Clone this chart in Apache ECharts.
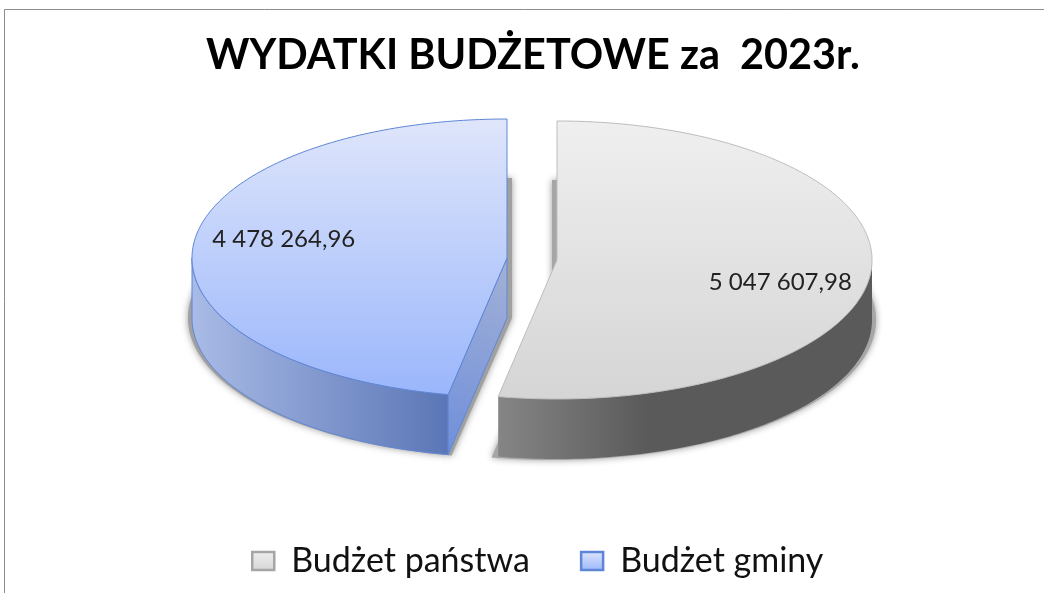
<!DOCTYPE html>
<html>
<head>
<meta charset="utf-8">
<style>
html, body { margin: 0; padding: 0; background: #fff; }
#chart { width: 1044px; height: 593px; }
</style>
<script src="https://cdn.jsdelivr.net/npm/echarts@6/dist/echarts.min.js"></script>
</head>
<body>
<div id="chart"></div>
<script>
// dane
const titleText = 'WYDATKI BUDŻETOWE za  2023r.'
const sliceNames = ['Budżet państwa', 'Budżet gminy']
const sliceValues = [5047607.98, 4478264.96]

// wyglad kawalkow
const RX = 315
const RY = 139
const DEPTH = 60
const centers = [[557, 260], [507, 258]]
const shadowShift = [-5, 5]
const labelFactor = 0.712
const labelShift = [13, -9]
const looks = [
    {
        top: ['#efefef', '#d5d5d5'],
        edge: '#bdbdbd',
        wall: [[0, '#858585'], [0.4, '#5a5a5a'], [1, '#5a5a5a']],
        wallEdge: '#6a6a6a',
        shadow: '#a6a6a6'
    },
    {
        top: ['#dfe6fb', '#9ab6fb'],
        edge: '#5f86d6',
        wall: [[0, '#a9bbe6'], [1, '#5b76b6']],
        wallEdge: '#5f86d6',
        face: ['#a3b1d6', '#6f8fdb'],
        shadow: '#a0a0a0'
    }
]

const total = sliceValues.reduce((a, b) => a + b, 0)

// 5047607.98 -> 5 047 607,98
const formatValue = (v) => v.toFixed(2).replace('.', ',').replace(/\B(?=(\d{3})+(?!\d))/g, ' ')

const rim = (cx, cy, rx, ry, from, to) => {
    const pts = []
    const n = Math.max(2, Math.ceil(Math.abs(to - from) * 180 / Math.PI))
    for (let k = 0; k <= n; k++) {
        const a = from + (to - from) * k / n
        pts.push([cx + rx * Math.sin(a), cy - ry * Math.cos(a)])
    }
    return pts
}

const vGrad = (c) => new echarts.graphic.LinearGradient(0, 0, 0, 1, [{ offset: 0, color: c[0] }, { offset: 1, color: c[1] }])
const hGrad = (stops) => new echarts.graphic.LinearGradient(0, 0, 1, 0, stops.map(s => ({ offset: s[0], color: s[1] })))

const renderSlice = (i) => (params, api) => {
    const before = sliceValues.slice(0, i).reduce((a, b) => a + b, 0)
    const from = before / total * Math.PI * 2
    const to = (before + api.value(0)) / total * Math.PI * 2
    const [cx, cy] = centers[i]
    const look = looks[i]
    const children = []

    // cien pod spodem
    const sx = cx + shadowShift[i]
    children.push({
        type: 'polygon',
        shape: { points: [[sx, cy + DEPTH]].concat(rim(sx, cy + DEPTH, RX + 9, RY + 1, from, to)) },
        style: { fill: look.shadow, shadowBlur: 7, shadowColor: 'rgba(0,0,0,0.4)' }
    })

    // sciana zewnetrzna, tylko przednia polowa
    const wallFrom = Math.max(from, Math.PI / 2)
    const wallTo = Math.min(to, Math.PI * 3 / 2)
    const upper = rim(cx, cy, RX, RY, wallFrom, wallTo)
    const lower = rim(cx, cy + DEPTH, RX, RY, wallFrom, wallTo).reverse()
    children.push({
        type: 'polygon',
        shape: { points: upper.concat(lower) },
        style: { fill: hGrad(look.wall), stroke: look.wallEdge, lineWidth: i === 0 ? 0 : 1 }
    })

    // sciana ciecia widoczna tylko po stronie gminy
    if (look.face) {
        const p = rim(cx, cy, RX, RY, from, from + 0.0001)[0]
        children.push({
            type: 'polygon',
            shape: { points: [[cx, cy], p, [p[0], p[1] + DEPTH], [cx, cy + DEPTH]] },
            style: { fill: new echarts.graphic.LinearGradient(1, 0, 0, 1, [
                { offset: 0, color: look.face[0] }, { offset: 1, color: look.face[1] }
            ]), stroke: look.edge, lineWidth: 1 }
        })
    }

    // wierzch
    children.push({
        type: 'polygon',
        shape: { points: [[cx, cy]].concat(rim(cx, cy, RX, RY, from, to)) },
        style: { fill: vGrad(look.top), stroke: look.edge, lineWidth: 1 }
    })

    // etykieta wartosci
    const mid = (from + to) / 2
    children.push({
        type: 'text',
        style: {
            x: cx + RX * labelFactor * Math.sin(mid),
            y: cy - RY * labelFactor * Math.cos(mid) + labelShift[i],
            text: formatValue(api.value(0)),
            fill: '#222',
            font: '24px Lato, sans-serif',
            align: 'center',
            verticalAlign: 'middle'
        }
    })
    return { type: 'group', children }
}

const myChart = echarts.init(document.getElementById('chart'))
myChart.setOption({
    animation: false,
    backgroundColor: '#fff',
    title: {
        text: titleText,
        left: 201,
        top: 30,
        textStyle: { color: '#000', fontFamily: 'Lato, sans-serif', fontWeight: 'bold', fontSize: 41.4 }
    },
    legend: {
        left: 246,
        top: 539,
        itemWidth: 22,
        itemHeight: 18,
        itemGap: 50,
        textStyle: { color: '#111', fontFamily: 'Lato, sans-serif', fontSize: 34, padding: [0, 0, 0, 12] },
        data: sliceNames.map((name, i) => ({
            name,
            icon: 'rect',
            itemStyle: { color: vGrad(looks[i].top), borderColor: i === 0 ? '#a6a6a6' : looks[i].edge, borderWidth: 2.5 }
        }))
    },
    graphic: [
        { type: 'line', shape: { x1: 4.5, y1: 9.5, x2: 1044, y2: 9.5 }, style: { stroke: '#8c8c8c', lineWidth: 1 } },
        { type: 'line', shape: { x1: 4.5, y1: 9.5, x2: 4.5, y2: 593 }, style: { stroke: '#8c8c8c', lineWidth: 1 } }
    ],
    series: sliceNames.map((name, i) => ({
        name,
        type: 'custom',
        coordinateSystem: 'none',
        renderItem: renderSlice(i),
        itemStyle: { color: looks[i].top[1] },
        data: [[sliceValues[i]]]
    }))
})
</script>
</body>
</html>
